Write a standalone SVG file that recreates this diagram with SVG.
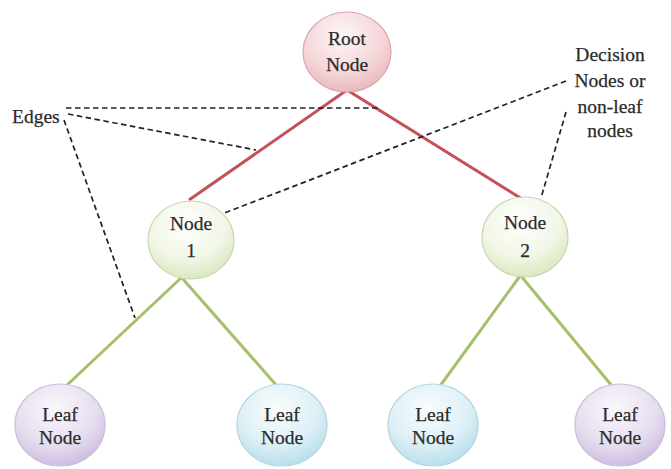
<svg xmlns="http://www.w3.org/2000/svg" width="671" height="469" viewBox="0 0 671 469">
<defs>
<radialGradient id="gRed" cx="0.45" cy="0.3" r="0.75">
<stop offset="0" stop-color="#fdf6f7"/><stop offset="0.6" stop-color="#f5d6d9"/><stop offset="1" stop-color="#e9b3b9"/>
</radialGradient>
<radialGradient id="gGreen" cx="0.45" cy="0.3" r="0.75">
<stop offset="0" stop-color="#ffffff"/><stop offset="0.6" stop-color="#f1f6e6"/><stop offset="1" stop-color="#d6e5b8"/>
</radialGradient>
<radialGradient id="gPurple" cx="0.45" cy="0.3" r="0.75">
<stop offset="0" stop-color="#faf8fc"/><stop offset="0.6" stop-color="#e6def0"/><stop offset="1" stop-color="#c9b7dd"/>
</radialGradient>
<radialGradient id="gBlue" cx="0.45" cy="0.3" r="0.75">
<stop offset="0" stop-color="#f8fcfd"/><stop offset="0.6" stop-color="#dcf0f6"/><stop offset="1" stop-color="#b2dbe9"/>
</radialGradient>
</defs>
<style>
text{font-family:"Liberation Serif","Times New Roman",serif;font-size:19.5px;fill:#2b2b2b;stroke:#2b2b2b;stroke-width:0.25;text-anchor:middle}
.lbl{text-anchor:start}
.red{stroke:#c4505a;stroke-width:3;fill:none}
.grn{stroke:#a3c06a;stroke-width:3;fill:none}
.dash{stroke:#222;stroke-width:1.7;stroke-dasharray:5.5 3.5;fill:none}
.n{stroke-width:1.2}
</style>
<rect width="671" height="469" fill="#ffffff"/>
<g id="connectors">
<line class="red" x1="347" y1="90" x2="189" y2="200"/>
<line class="red" x1="347" y1="90" x2="522" y2="199"/>
<line class="grn" x1="181" y1="278" x2="66" y2="386"/>
<line class="grn" x1="182" y1="278" x2="277" y2="386"/>
<line class="grn" x1="520" y1="276" x2="440" y2="386"/>
<line class="grn" x1="521" y1="276" x2="612" y2="386"/>
<polyline class="dash" points="66,108 380,108"/>
<polyline class="dash" points="68,114 256,150"/>
<polyline class="dash" points="64,120 135,318"/>
<polyline class="dash" points="566,81 222,214"/>
<polyline class="dash" points="566,112 541,198"/>
</g>
<g id="root">
<ellipse class="n" cx="347" cy="52" rx="44" ry="40" fill="url(#gRed)" stroke="#dca7ad"/>
<text x="347" y="45">Root</text><text x="347" y="71">Node</text>
</g>
<g id="node1">
<ellipse class="n" cx="191" cy="240" rx="43" ry="39" fill="url(#gGreen)" stroke="#c8d6b0"/>
<text x="191" y="230">Node</text><text x="191" y="257">1</text>
</g>
<g id="node2">
<ellipse class="n" cx="525" cy="237" rx="43" ry="40" fill="url(#gGreen)" stroke="#c8d6b0"/>
<text x="525" y="229">Node</text><text x="525" y="257">2</text>
</g>
<g id="leaf1">
<ellipse class="n" cx="60" cy="425" rx="45" ry="41" fill="url(#gPurple)" stroke="#cbbfdc"/>
<text x="60" y="421">Leaf</text><text x="60" y="444">Node</text>
</g>
<g id="leaf2">
<ellipse class="n" cx="282" cy="425" rx="45" ry="41" fill="url(#gBlue)" stroke="#b6d6e2"/>
<text x="282" y="421">Leaf</text><text x="282" y="444">Node</text>
</g>
<g id="leaf3">
<ellipse class="n" cx="433" cy="425" rx="45" ry="41" fill="url(#gBlue)" stroke="#b6d6e2"/>
<text x="433" y="421">Leaf</text><text x="433" y="444">Node</text>
</g>
<g id="leaf4">
<ellipse class="n" cx="620" cy="425" rx="45" ry="41" fill="url(#gPurple)" stroke="#cbbfdc"/>
<text x="620" y="421">Leaf</text><text x="620" y="444">Node</text>
</g>
<g id="labels">
<text class="lbl" x="12" y="123">Edges</text>
<text x="610" y="61">Decision</text>
<text x="610" y="87">Nodes or</text>
<text x="610" y="113">non-leaf</text>
<text x="610" y="137">nodes</text>
</g>
</svg>
